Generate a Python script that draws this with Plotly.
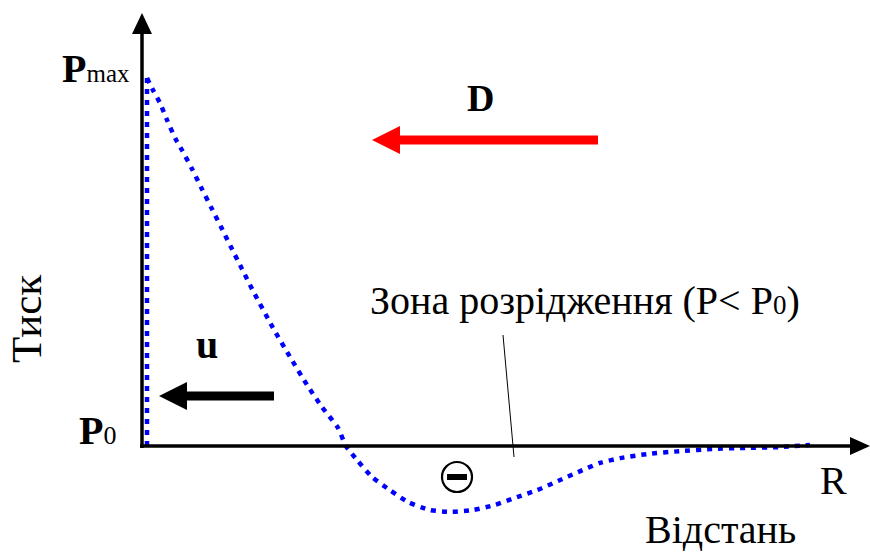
import plotly.graph_objects as go

# ---- data (R in arbitrary distance units, P normalised so that Pmax = 1, P0 = 0) ----
front_R = [0.05, 0.05]
front_P = [0.0, 1.0]

wave_R = [0.05, 0.11, 0.18, 0.25, 0.34, 0.40, 0.50, 0.60, 0.70, 0.80, 0.90, 1.00, 1.10,
          1.31, 1.48, 1.65, 1.80, 1.96, 2.04, 2.15, 2.30, 2.48, 2.66, 2.88, 3.10, 3.31,
          3.53, 3.75, 3.95, 4.16, 4.36, 4.58, 4.78, 5.05, 5.38, 5.71, 6.05, 6.38, 6.68]
wave_P = [1.0, 0.967, 0.932, 0.886, 0.832, 0.804, 0.753, 0.698, 0.644, 0.590, 0.535, 0.481,
          0.427, 0.321, 0.242, 0.166, 0.106, 0.049, 0.0, -0.038, -0.084, -0.120, -0.152,
          -0.174, -0.179, -0.174, -0.160, -0.139, -0.120, -0.095, -0.071, -0.046, -0.033,
          -0.022, -0.014, -0.008, -0.005, -0.003, 0.003]

W, H = 870, 553
FONT = "Liberation Serif"


def pp(px, py):
    """pixel -> paper coordinates (margins are zero)"""
    return px / W, 1 - py / H


def poly(points, color):
    pts = [pp(x, y) for x, y in points]
    d = "M " + " L ".join(f"{x:.5f},{y:.5f}" for x, y in pts) + " Z"
    return dict(type="path", xref="paper", yref="paper", path=d,
                fillcolor=color, line=dict(width=0), layer="above")


def hline_arrow_left(x_tail, x_tip, y, thick, head_len, head_half, color):
    base = x_tip + head_len
    shaft = [(x_tail, y - thick / 2), (base - 1, y - thick / 2),
             (base - 1, y + thick / 2), (x_tail, y + thick / 2)]
    head = [(x_tip, y), (base, y - head_half), (base, y + head_half)]
    return [poly(shaft, color), poly(head, color)]


fig = go.Figure()
line_style = dict(color="#0000FF", width=4.5, dash="5px,6px")
fig.add_trace(go.Scatter(x=front_R, y=front_P, mode="lines", line=line_style,
                         hoverinfo="skip", showlegend=False))
fig.add_trace(go.Scatter(x=wave_R, y=wave_P, mode="lines",
                         line=dict(shape="spline", smoothing=0.6, **line_style),
                         hoverinfo="skip", showlegend=False))

shapes = []
# axes with arrowheads
ox, oy = 142, 446
shapes.append(dict(type="line", xref="paper", yref="paper",
                   x0=pp(ox, oy + 2)[0], y0=pp(ox, oy + 2)[1],
                   x1=pp(ox, 30)[0], y1=pp(ox, 30)[1],
                   line=dict(color="black", width=3.5)))
shapes.append(poly([(ox, 13), (ox - 10, 34), (ox + 10, 34)], "black"))
shapes.append(dict(type="line", xref="paper", yref="paper",
                   x0=pp(ox - 2, oy)[0], y0=pp(ox - 2, oy)[1],
                   x1=pp(852, oy)[0], y1=pp(852, oy)[1],
                   line=dict(color="black", width=3.5)))
shapes.append(poly([(870, oy), (850, oy - 9), (850, oy + 9)], "black"))

# D (red) and u (black) arrows
shapes += hline_arrow_left(598, 372, 140, 9, 28, 14, "#FF0000")
shapes += hline_arrow_left(274, 159, 396, 9, 28, 14, "black")

# leader line
shapes.append(dict(type="line", xref="paper", yref="paper",
                   x0=pp(503, 335)[0], y0=pp(503, 335)[1],
                   x1=pp(514, 457)[0], y1=pp(514, 457)[1],
                   line=dict(color="black", width=1)))

# circled minus
cx, cy, r = 457, 477, 15
shapes.append(dict(type="circle", xref="paper", yref="paper",
                   x0=pp(cx - r, cy)[0], x1=pp(cx + r, cy)[0],
                   y0=pp(cx, cy + r)[1], y1=pp(cx, cy - r)[1],
                   line=dict(color="black", width=2.2)))
shapes.append(poly([(cx - 10, cy - 3), (cx + 10, cy - 3), (cx + 10, cy + 3), (cx - 10, cy + 3)], "black"))


def ann(text, px, py, size, xanchor="center", yanchor="middle", angle=0, bold=False):
    x, y = pp(px, py)
    return dict(text=f"<b>{text}</b>" if bold else text, x=x, y=y, xref="paper", yref="paper",
                xanchor=xanchor, yanchor=yanchor, showarrow=False, textangle=angle,
                font=dict(family=FONT, size=size, color="black"))


annotations = [
    ann("<b>P</b><span style='font-size:25px'>max</span>", 132, 68, 40, xanchor="right"),
    ann("<b>P</b><span style='font-size:26px'>0</span>", 118, 430, 40, xanchor="right"),
    ann("D", 481, 98, 38, bold=True),
    ann("u", 207, 345, 40, bold=True),
    ann("Тиск", 26, 319, 43, angle=-90),
    ann("R", 833, 480, 40),
    ann("Відстань", 720, 529, 40),
    ann("Зона розрідження (P&lt; P<span style='font-size:27px'>0</span>)", 585, 300, 40),
]

fig.update_layout(
    width=W, height=H, margin=dict(l=0, r=0, t=0, b=0),
    paper_bgcolor="white", plot_bgcolor="white",
    xaxis=dict(range=[-1.42, 7.28], visible=False, fixedrange=True),
    yaxis=dict(range=[(446 - 553) / 368, 446 / 368], visible=False, fixedrange=True),
    shapes=shapes, annotations=annotations, showlegend=False,
)

fig.write_html("out.html", config={"displayModeBar": False, "staticPlot": True},
               post_script="document.body.style.margin='0px';document.body.style.overflow='hidden';")
